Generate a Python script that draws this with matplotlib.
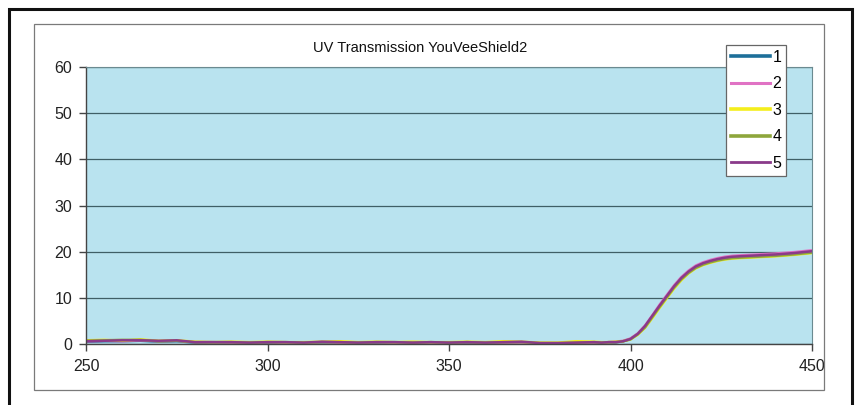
import matplotlib
matplotlib.use("Agg")
import matplotlib.pyplot as plt
from matplotlib.patches import Rectangle

plt.rcParams['font.family'] = ['Liberation Sans', 'DejaVu Sans']

wavelength = [250, 255, 260, 265, 270, 275, 280, 285, 290, 295, 300, 305, 310, 315, 320,
              325, 330, 335, 340, 345, 350, 355, 360, 365, 370, 375, 380, 385, 390,
              392, 394, 396, 398, 400, 402, 404, 406, 408, 410, 412, 414, 416, 418, 420,
              422, 424, 426, 428, 430, 435, 440, 445, 450]

s1 = [0.5, 0.6, 0.6, 0.7, 0.5, 0.6, 0.3, 0.3, 0.3, 0.2, 0.3, 0.3, 0.2, 0.3, 0.3, 0.2, 0.3, 0.3,
      0.2, 0.3, 0.2, 0.3, 0.2, 0.3, 0.2, 0.2, 0.1, 0.2, 0.2,
      0.3, 0.3, 0.4, 0.6, 1.1, 2.2, 3.8, 6.0, 8.2, 10.3, 12.4, 14.2, 15.6, 16.7, 17.4, 17.9,
      18.3, 18.6, 18.8, 18.9, 19.1, 19.3, 19.5, 19.9]
s2 = [0.6, 0.7, 0.6, 0.8, 0.6, 0.7, 0.4, 0.4, 0.3, 0.3, 0.4, 0.3, 0.3, 0.4, 0.3, 0.3, 0.4, 0.3,
      0.3, 0.3, 0.3, 0.4, 0.3, 0.3, 0.3, 0.2, 0.2, 0.2, 0.3,
      0.3, 0.4, 0.5, 0.7, 1.2, 2.3, 4.0, 6.2, 8.5, 10.6, 12.7, 14.5, 15.9, 17.0, 17.7, 18.2,
      18.6, 18.9, 19.1, 19.2, 19.4, 19.6, 19.9, 20.3]
s3 = [0.8, 0.9, 0.7, 1.0, 0.7, 0.8, 0.5, 0.4, 0.5, 0.4, 0.5, 0.4, 0.4, 0.5, 0.6, 0.4, 0.5, 0.4,
      0.5, 0.4, 0.4, 0.5, 0.4, 0.6, 0.5, 0.3, 0.3, 0.6, 0.5,
      0.4, 0.4, 0.5, 0.6, 1.0, 2.0, 3.5, 5.6, 7.8, 9.9, 12.0, 13.8, 15.3, 16.4, 17.1, 17.6,
      18.0, 18.3, 18.5, 18.6, 18.8, 19.0, 19.3, 19.7]
s4 = [0.7, 0.8, 0.9, 0.9, 0.6, 0.7, 0.4, 0.4, 0.4, 0.3, 0.4, 0.4, 0.3, 0.4, 0.4, 0.3, 0.4, 0.4,
      0.3, 0.4, 0.3, 0.4, 0.3, 0.4, 0.4, 0.2, 0.2, 0.3, 0.4,
      0.3, 0.4, 0.4, 0.6, 1.0, 2.1, 3.6, 5.8, 8.0, 10.1, 12.2, 14.0, 15.4, 16.5, 17.2, 17.7,
      18.1, 18.4, 18.6, 18.7, 18.9, 19.1, 19.4, 19.8]
s5 = [0.6, 0.7, 0.8, 0.8, 0.7, 0.8, 0.4, 0.4, 0.4, 0.3, 0.4, 0.4, 0.3, 0.5, 0.4, 0.3, 0.4, 0.4,
      0.3, 0.4, 0.3, 0.4, 0.3, 0.4, 0.5, 0.2, 0.2, 0.3, 0.4,
      0.3, 0.4, 0.4, 0.6, 1.1, 2.2, 3.9, 6.1, 8.3, 10.4, 12.5, 14.3, 15.7, 16.8, 17.5, 18.0,
      18.4, 18.7, 18.9, 19.0, 19.2, 19.4, 19.7, 20.1]

series = [s1, s2, s3, s4, s5]
labels = ['1', '2', '3', '4', '5']
colors = ['#1d6f9a', '#e072c4', '#f4ee1c', '#8ea63c', '#8a3a8a']
xticks = [250, 300, 350, 400, 450]
yticks = [0, 10, 20, 30, 40, 50, 60]
title = 'UV Transmission YouVeeShield2'

W, H = 859, 405
fig = plt.figure(figsize=(W / 100, H / 100), dpi=100)
fig.patch.set_facecolor('white')

# outer frame and chart-area border
fig.add_artist(Rectangle((9 / W, -0.05), (852 - 9) / W, 1.05 - 9 / H, transform=fig.transFigure,
                         fill=False, edgecolor='#111111', linewidth=2.2))
fig.add_artist(Rectangle((34 / W, 1 - 390 / H), (824 - 34) / W, (390 - 24) / H,
                         transform=fig.transFigure, fill=False, edgecolor='#7a7a7a', linewidth=0.9))

ax = fig.add_axes([86 / W, 1 - 344 / H, (812 - 86) / W, (344 - 67) / H])
ax.set_facecolor('#b9e3ef')

for s, lab, c in zip(series, labels, colors):
    ax.plot(wavelength, s, color=c, linewidth=1.8, label=lab)

ax.set_xlim(250, 450)
ax.set_ylim(0, 60)
ax.set_xticks(xticks)
ax.set_yticks(yticks)
ax.grid(axis='y', color='#3f5f66', linewidth=0.9)
ax.set_axisbelow(True)
for side in ['left', 'bottom']:
    ax.spines[side].set_color('#444444')
    ax.spines[side].set_linewidth(1.0)
for side in ['right', 'top']:
    ax.spines[side].set_color('#6b8a90')
    ax.spines[side].set_linewidth(0.8)
ax.tick_params(axis='both', direction='out', length=5, width=1, color='#444444',
               labelsize=11.5, labelcolor='#222222')
ax.tick_params(axis='y', pad=5)
ax.tick_params(axis='x', pad=6)

fig.text(420 / W, 1 - 47.5 / H, title, ha='center', va='center', fontsize=10.5, color='#111111')

leg = ax.legend(loc='upper left', bbox_to_anchor=(726 / W, 1 - 45 / H),
                bbox_transform=fig.transFigure, fontsize=11.5, frameon=True, fancybox=False,
                edgecolor='#666666', framealpha=1, handlelength=2.45, handletextpad=0.15,
                labelspacing=0.72, borderpad=0.3, borderaxespad=0)
leg.get_frame().set_linewidth(0.9)
for line, lw in zip(leg.get_lines(), [2.6, 2.2, 2.6, 2.6, 2.0]):
    line.set_linewidth(lw)

fig.savefig('out.png', dpi=100, facecolor='white')
